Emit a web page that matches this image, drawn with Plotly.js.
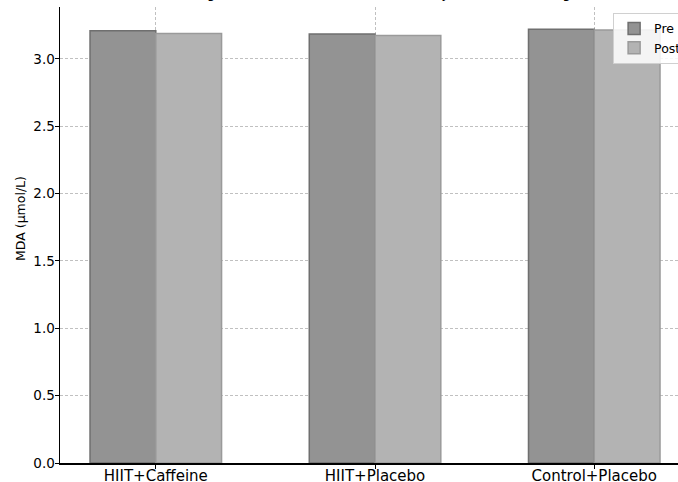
<!DOCTYPE html>
<html>
<head>
<meta charset="utf-8">
<script src="https://cdn.plot.ly/plotly-3.0.1.min.js"></script>
<style>html,body{margin:0;padding:0;background:#fff;}#chart{width:678px;height:482px;}</style>
</head>
<body>
<div id="chart"></div>
<script>
const groups = ["HIIT+Caffeine", "HIIT+Placebo", "Control+Placebo"];
const preValues = [3.21, 3.185, 3.22];
const postValues = [3.19, 3.175, 3.215];
const seriesNames = ["Pre", "Post"];
const yTicks = [0.0, 0.5, 1.0, 1.5, 2.0, 2.5, 3.0];
const yTickLabels = ["0.0", "0.5", "1.0", "1.5", "2.0", "2.5", "3.0"];
const titleText = "Changes in MDA Levels Across Each Study Arm After Training";
const yLabel = "MDA (µmol/L)";

const xIdx = groups.map((g, i) => i);

const traces = [
  {
    type: "bar", name: seriesNames[0], x: xIdx, y: preValues, offset: -0.3, width: 0.3,
    marker: {color: "#939393", line: {color: "#6f6f6f", width: 1.5}}
  },
  {
    type: "bar", name: seriesNames[1], x: xIdx, y: postValues, offset: 0, width: 0.3,
    marker: {color: "#b3b3b3", line: {color: "#9a9a9a", width: 1.5}}
  }
];

const layout = {
  width: 678, height: 482,
  margin: {l: 60, r: 0, t: 7, b: 19, autoexpand: false},
  paper_bgcolor: "#ffffff", plot_bgcolor: "#ffffff",
  font: {family: "DejaVu Sans", color: "#000"},
  title: {text: titleText, font: {size: 13, family: "DejaVu Sans"}, xref: "paper", x: 0.505, xanchor: "center", yref: "paper", y: 1, yanchor: "bottom", pad: {b: 9}},
  showlegend: true,
  legend: {x: 0.895, xanchor: "left", y: 0.987, yanchor: "top", bgcolor: "rgba(255,255,255,0.85)", bordercolor: "#d0d0d0", borderwidth: 1, font: {size: 12.5}, tracegroupgap: 0},
  bargap: 0,
  xaxis: {
    range: [-0.437, 2.382], tickmode: "array", tickvals: xIdx, ticktext: groups,
    showgrid: true, gridcolor: "#c0c0c0", griddash: "3px,2px", gridwidth: 1,
    showline: true, linecolor: "#000", linewidth: 1.5,
    ticks: "outside", ticklen: 4, tickcolor: "#000", tickfont: {size: 15}, zeroline: false,
    ticklabelstandoff: -6
  },
  yaxis: {
    range: [0, 3.386], tickmode: "array", tickvals: yTicks, ticktext: yTickLabels,
    showgrid: true, gridcolor: "#c0c0c0", griddash: "3px,2px", gridwidth: 1,
    showline: true, linecolor: "#000", linewidth: 1.5,
    ticks: "outside", ticklen: 4, tickcolor: "#000", tickfont: {size: 13.5}, zeroline: false,
    ticklabelstandoff: -3
  },
  annotations: [
    {text: yLabel, textangle: -90, xref: "paper", x: -0.065, xanchor: "center", yref: "paper", y: 0.537, yanchor: "middle", showarrow: false, font: {size: 12.5, family: "DejaVu Sans"}}
  ]
};

Plotly.newPlot("chart", traces, layout, {staticPlot: true, displayModeBar: false});
</script>
</body>
</html>
